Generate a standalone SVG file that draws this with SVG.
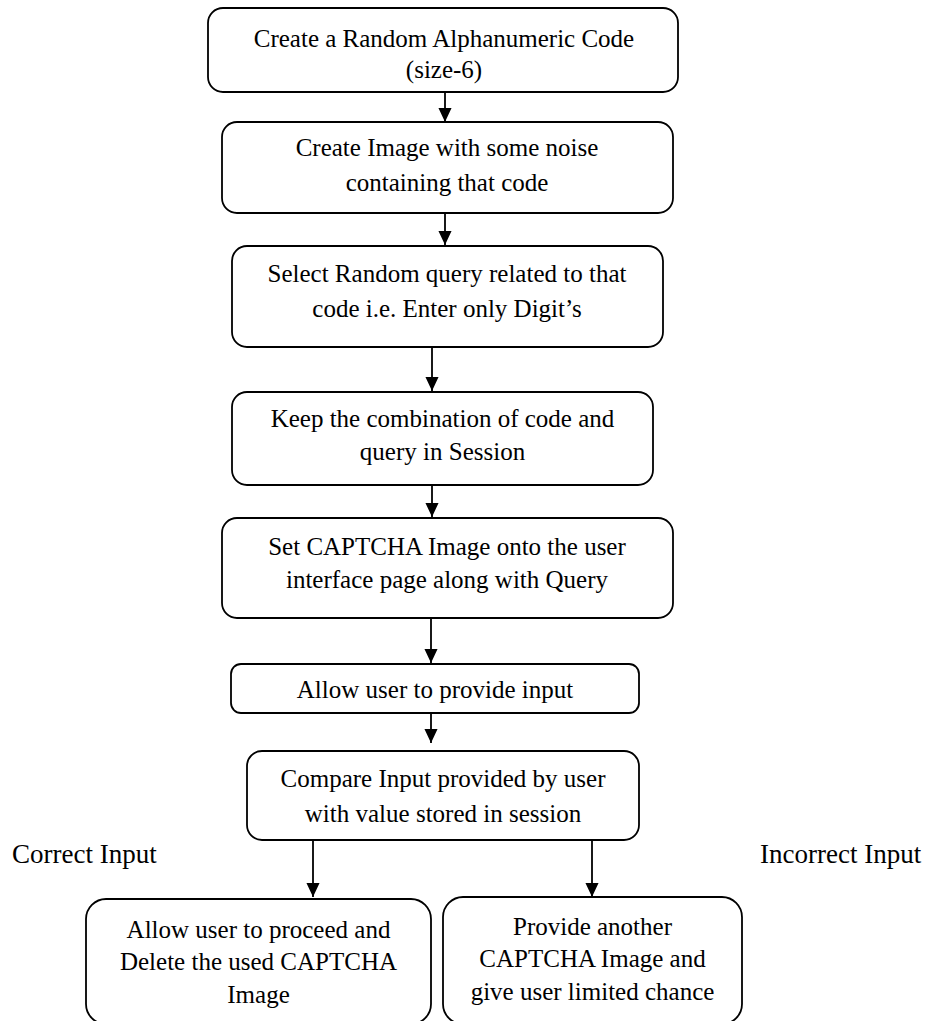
<svg xmlns="http://www.w3.org/2000/svg" width="929" height="1021" viewBox="0 0 929 1021">
<style>
.box{fill:#fff;stroke:#000;stroke-width:1.8}
.t{font-family:"Liberation Serif","Times New Roman",serif;font-size:25px;fill:#000;text-anchor:middle}
.lbl{font-family:"Liberation Serif","Times New Roman",serif;font-size:27px;fill:#000}
.c{stroke:#000;stroke-width:1.8;fill:none;marker-end:url(#ah)}
</style>
<defs>
<marker id="ah" markerUnits="userSpaceOnUse" markerWidth="14" markerHeight="16" refX="7" refY="15" orient="auto-start-reverse" viewBox="0 0 14 16">
<path d="M0,0 L14,0 L7,15 Z" fill="#000" transform="rotate(-90 7 7.5) translate(0,0)"/>
</marker>
<marker id="ah2" markerUnits="userSpaceOnUse" markerWidth="14" markerHeight="15" refX="15" refY="7" orient="auto" viewBox="0 0 15 14">
<path d="M0,0 L15,7 L0,14 Z" fill="#000"/>
</marker>
</defs>
<g id="connectors">
<line x1="445" y1="93" x2="445" y2="122" style="stroke:#000;stroke-width:1.8;marker-end:url(#ah2)"/>
<line x1="445" y1="213" x2="445" y2="245" style="stroke:#000;stroke-width:1.8;marker-end:url(#ah2)"/>
<line x1="432" y1="347" x2="432" y2="391" style="stroke:#000;stroke-width:1.8;marker-end:url(#ah2)"/>
<line x1="432" y1="485" x2="432" y2="517" style="stroke:#000;stroke-width:1.8;marker-end:url(#ah2)"/>
<line x1="431" y1="618" x2="431" y2="663" style="stroke:#000;stroke-width:1.8;marker-end:url(#ah2)"/>
<line x1="431" y1="713" x2="431" y2="743" style="stroke:#000;stroke-width:1.8;marker-end:url(#ah2)"/>
<line x1="313" y1="840" x2="313" y2="897" style="stroke:#000;stroke-width:1.8;marker-end:url(#ah2)"/>
<line x1="592" y1="840" x2="592" y2="897" style="stroke:#000;stroke-width:1.8;marker-end:url(#ah2)"/>
</g>
<g id="n1">
<rect class="box" x="208" y="8" width="470" height="84" rx="15"/>
<text class="t" x="444" y="47">Create a Random Alphanumeric Code</text>
<text class="t" x="444" y="78">(size-6)</text>
</g>
<g id="n2">
<rect class="box" x="222" y="122" width="451" height="91" rx="15"/>
<text class="t" x="447" y="156">Create Image with some noise</text>
<text class="t" x="447" y="191">containing that code</text>
</g>
<g id="n3">
<rect class="box" x="232" y="246" width="431" height="101" rx="15"/>
<text class="t" x="447" y="282">Select Random query related to that</text>
<text class="t" x="447" y="317">code i.e. Enter only Digit’s</text>
</g>
<g id="n4">
<rect class="box" x="232" y="392" width="421" height="93" rx="15"/>
<text class="t" x="442.5" y="427">Keep the combination of code and</text>
<text class="t" x="442.5" y="460">query in Session</text>
</g>
<g id="n5">
<rect class="box" x="222" y="518" width="451" height="100" rx="15"/>
<text class="t" x="447" y="555">Set CAPTCHA Image onto the user</text>
<text class="t" x="447" y="588">interface page along with Query</text>
</g>
<g id="n6">
<rect class="box" x="231" y="664" width="408" height="49" rx="10"/>
<text class="t" x="435" y="698">Allow user to provide input</text>
</g>
<g id="n7">
<rect class="box" x="247" y="751" width="392" height="89" rx="15"/>
<text class="t" x="443" y="787">Compare Input provided by user</text>
<text class="t" x="443" y="822">with value stored in session</text>
</g>
<g id="n8">
<rect class="box" x="86" y="899" width="345" height="125" rx="20"/>
<text class="t" x="258.5" y="938">Allow user to proceed and</text>
<text class="t" x="258.5" y="970">Delete the used CAPTCHA</text>
<text class="t" x="258.5" y="1003">Image</text>
</g>
<g id="n9">
<rect class="box" x="443" y="897" width="299" height="127" rx="20"/>
<text class="t" x="592.5" y="935">Provide another</text>
<text class="t" x="592.5" y="967">CAPTCHA Image and</text>
<text class="t" x="592.5" y="1000">give user limited chance</text>
</g>
<g id="labels">
<text class="lbl" x="12" y="863">Correct Input</text>
<text class="lbl" x="760" y="863">Incorrect Input</text>
</g>
</svg>
